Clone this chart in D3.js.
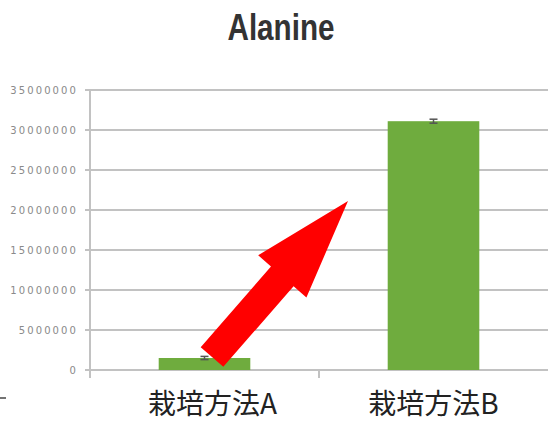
<!DOCTYPE html>
<html>
<head>
<meta charset="utf-8">
<script src="https://cdn.jsdelivr.net/npm/d3@7"></script>
<style>
  body { margin: 0; background: #fff; }
</style>
</head>
<body>
<div id="chart"></div>
<script>
// Chart data
const categories = ["栽培方法A", "栽培方法B"];
const values = [1500000, 31100000];
const errors = [200000, 250000];
const yTicks = [0, 5000000, 10000000, 15000000, 20000000, 25000000, 30000000, 35000000];

const width = 548;
const height = 425;
const margin = { top: 90, right: 0, bottom: 55, left: 90 };

const svg = d3.select("#chart")
    .append("svg")
    .attr("width", width)
    .attr("height", height);

// Scales
const x = d3.scaleBand()
    .domain(categories)
    .range([margin.left, width - margin.right])
    .paddingInner(0.6)
    .paddingOuter(0.3);

const y = d3.scaleLinear()
    .domain([0, 35000000])
    .range([height - margin.bottom, margin.top]);

// Gridlines
svg.append("g")
    .selectAll("line")
    .data(yTicks)
    .enter().append("line")
    .attr("x1", margin.left - 5)
    .attr("x2", width)
    .attr("y1", d => y(d))
    .attr("y2", d => y(d))
    .style("stroke", "#c2c2c2")
    .style("stroke-width", 2);

// Y axis line
svg.append("line")
    .attr("x1", margin.left)
    .attr("x2", margin.left)
    .attr("y1", y(35000000))
    .attr("y2", y(0) + 8)
    .style("stroke", "#c2c2c2")
    .style("stroke-width", 2);

// Category separator tick
const step = x.step();
svg.append("line")
    .attr("x1", margin.left + step)
    .attr("x2", margin.left + step)
    .attr("y1", y(0))
    .attr("y2", y(0) + 8)
    .style("stroke", "#c2c2c2")
    .style("stroke-width", 2);

// Y tick labels
svg.append("g")
    .selectAll("text")
    .data(yTicks)
    .enter().append("text")
    .attr("x", margin.left - 12)
    .attr("y", d => y(d))
    .attr("dy", "0.35em")
    .attr("text-anchor", "end")
    .style("font-family", "'DejaVu Sans', sans-serif")
    .style("font-size", "10px")
    .style("letter-spacing", "2.1px")
    .style("fill", "#8a8a8a")
    .text(d => d);

// Bars
svg.append("g")
    .selectAll("rect")
    .data(values)
    .enter().append("rect")
    .attr("x", (d, i) => x(categories[i]))
    .attr("y", d => y(d))
    .attr("width", x.bandwidth())
    .attr("height", d => y(0) - y(d))
    .style("fill", "#6fac3e");

// Error bars
const errG = svg.append("g");
values.forEach(function (v, i) {
    const cx = x(categories[i]) + x.bandwidth() / 2;
    errG.append("line")
        .attr("x1", cx).attr("x2", cx)
        .attr("y1", y(v + errors[i])).attr("y2", y(v - errors[i]))
        .style("stroke", "#555").style("stroke-width", 1.5);
    [v + errors[i], v - errors[i]].forEach(function (e) {
        errG.append("line")
            .attr("x1", cx - 4).attr("x2", cx + 4)
            .attr("y1", y(e)).attr("y2", y(e))
            .style("stroke", "#555").style("stroke-width", 1.5);
    });
});

// Category labels
svg.append("g")
    .selectAll("text")
    .data(categories)
    .enter().append("text")
    .attr("x", (d, i) => x(d) + x.bandwidth() / 2 + (i === 0 ? 8 : 0))
    .attr("y", 414)
    .attr("text-anchor", "middle")
    .style("font-family", "'Noto Sans CJK JP', sans-serif")
    .style("font-size", "28px")
    .style("fill", "#222")
    .text(d => d);

// Title
svg.append("text")
    .attr("x", 281)
    .attr("y", 40)
    .attr("text-anchor", "middle")
    .attr("textLength", 107)
    .attr("lengthAdjust", "spacingAndGlyphs")
    .style("font-family", "'Liberation Sans', Arial, sans-serif")
    .style("font-weight", "bold")
    .style("font-size", "37px")
    .style("fill", "#333")
    .text("Alanine");

// Red block arrow annotation
const tail = [212, 357];
const tip = [348, 201];
const shaftW = 30, headW = 64, headLen = 100;
const dx = tip[0] - tail[0], dy = tip[1] - tail[1];
const len = Math.hypot(dx, dy);
const ux = dx / len, uy = dy / len;
const nx = -uy, ny = ux;
const base = [tip[0] - ux * headLen, tip[1] - uy * headLen];
const pts = [
    [tail[0] + nx * shaftW / 2, tail[1] + ny * shaftW / 2],
    [base[0] + nx * shaftW / 2, base[1] + ny * shaftW / 2],
    [base[0] + nx * headW / 2, base[1] + ny * headW / 2],
    tip,
    [base[0] - nx * headW / 2, base[1] - ny * headW / 2],
    [base[0] - nx * shaftW / 2, base[1] - ny * shaftW / 2],
    [tail[0] - nx * shaftW / 2, tail[1] - ny * shaftW / 2]
];
svg.append("polygon")
    .attr("points", pts.map(p => p.join(",")).join(" "))
    .style("fill", "#ff0000");

// small stray mark at left edge
svg.append("line")
    .attr("x1", 0).attr("x2", 6)
    .attr("y1", 398).attr("y2", 398)
    .style("stroke", "#444").style("stroke-width", 1.5);
</script>
</body>
</html>
